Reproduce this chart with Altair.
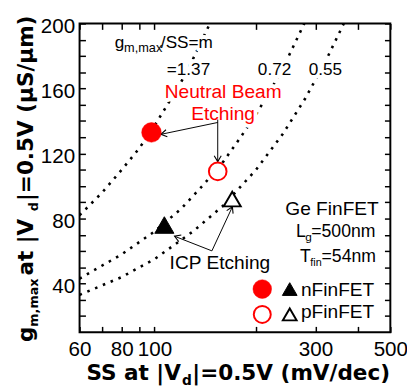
import altair as alt
import pandas as pd

# ---------------- data ----------------
# dotted reference curves  gm,max / SS = m
curve_m = ["1.37", "0.72", "0.55"]
curve_137_ss = [60, 70, 80, 90, 100, 110, 120, 130, 140, 146]
curve_137_gm = [82, 96, 110, 123, 137, 151, 164, 178, 192, 200]
curve_072_ss = [60, 80, 100, 120, 140, 160, 180, 200, 225, 250, 278]
curve_072_gm = [43, 58, 72, 86, 101, 115, 130, 144, 162, 180, 200]
curve_055_ss = [60, 80, 100, 130, 160, 200, 240, 280, 320, 364]
curve_055_gm = [33, 44, 55, 72, 88, 110, 132, 154, 176, 200]

# measured devices
device = ["NB nFinFET", "NB pFinFET", "ICP nFinFET", "ICP pFinFET"]
device_ss = [98, 154, 107, 170]
device_gm = [133, 109, 76, 92]

# legend symbol anchors
legend_col_ss = [208.7, 251.7]   # circle column, triangle column
legend_row_gm = [36.6, 21.0]     # nFinFET row, pFinFET row

# annotation arrows
arrow_from_ss = [154, 154, 148, 148]
arrow_from_gm = [139.1, 140.9, 60.1, 60.1]
arrow_to_ss = [104.5, 154, 114.7, 170.2]
arrow_to_gm = [131.8, 115.0, 69.1, 87.2]
arrow_angle = [259, 180, 291, 25]

x_ticks = [60, 70, 80, 90, 100, 200, 300, 400, 500]
x_tick_labels = [60, 80, 100, 300, 500]
y_ticks = list(range(20, 201, 10))
y_tick_labels = [40, 80, 120, 160, 200]

# ---------------- styling helpers ----------------
ARIAL = "Liberation Sans"
DV = "DejaVu Sans"
RED = "#ff0000"

XS = alt.Scale(type="log", domain=[60, 500], nice=False)
YS = alt.Scale(domain=[10, 200], nice=False, zero=False)


def X(axis=None):
    return alt.X("SS:Q", scale=XS, axis=axis)


def Y(axis=None):
    return alt.Y("gm:Q", scale=YS, axis=axis)


halos, texts = [], []


def txt(s, ss, gm, size, dx=0, dy=0, color="black", font=ARIAL, weight="normal", halo=True):
    df = pd.DataFrame({"SS": [ss], "gm": [gm]})
    kw = dict(text=s, align="left", baseline="alphabetic", dx=dx, dy=dy,
              fontSize=size, font=font, fontWeight=weight)
    if halo:
        halos.append(alt.Chart(df).mark_text(fill="white", stroke="white", strokeWidth=8,
                                             strokeJoin="round", **kw).encode(x=X(), y=Y()))
    texts.append(alt.Chart(df).mark_text(fill=color, **kw).encode(x=X(), y=Y()))


# DejaVu Sans Bold advance widths (em) for chaining title segments
DVB = {'S': .720, 'a': .675, 't': .478, ' ': .348, '|': .366, 'V': .774, 'd': .716,
       '=': .838, '0': .696, '.': .380, '5': .696, '(': .457, ')': .457, 'm': 1.042,
       '/': .365, 'e': .678, 'c': .593, 'g': .716, ',': .380, 'x': .712, 'μ': .721}


def title_layers(segments, px, py, angle=0):
    out = []
    pos = 0.0
    one = pd.DataFrame({"k": [0]})
    for s, size, dy, gap in segments:
        kw = dict(text=s, align="left", baseline="alphabetic", dx=pos, dy=dy,
                  fontSize=size, font=DV, fontWeight="bold", fill="black")
        if angle:
            kw["angle"] = angle
        out.append(alt.Chart(one).mark_text(**kw).encode(x=alt.value(px), y=alt.value(py)))
        pos += sum(DVB.get(c, 0.6) for c in s) * size + gap
    return out


# ---------------- layers ----------------
curves_df = pd.concat([
    pd.DataFrame({"SS": curve_137_ss, "gm": curve_137_gm, "m": curve_m[0]}),
    pd.DataFrame({"SS": curve_072_ss, "gm": curve_072_gm, "m": curve_m[1]}),
    pd.DataFrame({"SS": curve_055_ss, "gm": curve_055_gm, "m": curve_m[2]}),
])

common_axis = dict(title=None, domain=False, grid=False, ticks=True, tickSize=6,
                   tickWidth=1.5, tickColor="black", offset=-6)
lab_x = "[" + ",".join(str(v) for v in x_tick_labels) + "]"
lab_y = "[" + ",".join(str(v) for v in y_tick_labels) + "]"
axis_bottom = alt.Axis(orient="bottom", values=x_ticks,
                       labelExpr=f"indexof({lab_x}, datum.value) >= 0 ? format(datum.value, 'd') : ''",
                       labelFont=ARIAL, labelFontSize=21, labelColor="black", labelPadding=7,
                       labelFlush=False, labelOverlap=False, **common_axis)
axis_left = alt.Axis(orient="left", values=y_ticks,
                     labelExpr=f"indexof({lab_y}, datum.value) >= 0 ? format(datum.value, 'd') : ''",
                     labelFont=ARIAL, labelFontSize=21, labelColor="black", labelPadding=5,
                     labelOffset=3, labelFlush=False, labelOverlap=False, **common_axis)
axis_top = alt.Axis(orient="top", values=x_ticks, labels=False, **common_axis)
axis_right = alt.Axis(orient="right", values=y_ticks, labels=False, **common_axis)

curves = alt.Chart(curves_df).mark_line(
    color="black", strokeWidth=2.6, strokeDash=[2.6, 6], strokeCap="butt", clip=True
).encode(x=X(axis_bottom), y=Y(axis_left), detail="m:N")

mirror = alt.Chart(curves_df).mark_point(opacity=0).encode(x=X(axis_top), y=Y(axis_right))

arrows_df = pd.DataFrame({"SS": arrow_from_ss, "gm": arrow_from_gm,
                          "SS2": arrow_to_ss, "gm2": arrow_to_gm, "ang": arrow_angle})
arrow_lines = alt.Chart(arrows_df).mark_rule(color="black", strokeWidth=1).encode(
    x=X(), y=Y(), x2="SS2:Q", y2="gm2:Q")
arrow_heads = alt.Chart(arrows_df).mark_point(
    shape="M-0.6,1L0,0L0.6,1", filled=False, stroke="black", strokeWidth=1.1,
    size=144, opacity=1
).encode(x=alt.X("SS2:Q", scale=XS, axis=None), y=alt.Y("gm2:Q", scale=YS, axis=None),
         angle=alt.Angle("ang:Q", scale=None))

dev_df = pd.DataFrame({"name": device, "SS": device_ss, "gm": device_gm})


def marker(df, shape, fill, stroke, size, sw):
    return alt.Chart(df).mark_point(shape=shape, filled=True, fill=fill, stroke=stroke,
                                    size=size, strokeWidth=sw, opacity=1,
                                    fillOpacity=1, strokeOpacity=1).encode(x=X(), y=Y())


def one(ss, gm):
    return pd.DataFrame({"SS": [ss], "gm": [gm]})


markers = [
    marker(dev_df.iloc[[0]], "circle", RED, RED, 400, 0.5),
    marker(dev_df.iloc[[1]], "circle", "white", RED, 324, 2),
    marker(dev_df.iloc[[2]], "triangle-up", "black", "black", 380, 1),
    marker(dev_df.iloc[[3]], "triangle-up", "white", "black", 300, 2),
    # legend symbols
    marker(one(legend_col_ss[0], legend_row_gm[0]), "circle", RED, RED, 361, 0.5),
    marker(one(legend_col_ss[1], legend_row_gm[0]), "triangle-up", "black", "black", 225, 1),
    marker(one(legend_col_ss[0], legend_row_gm[1]), "circle", "white", RED, 300, 2),
    marker(one(legend_col_ss[1], legend_row_gm[1]), "triangle-up", "white", "black", 196, 2),
]

# ---------------- annotations ----------------
txt("g", 76.3, 184.9, 17.5)
txt("m,max", 76.3, 184.9, 13, dx=9.5, dy=4)
txt("/SS=m", 76.3, 184.9, 17.5, dx=47)
txt("=1.37", 108.8, 168.2, 17.5)
txt("0.72", 202.5, 168.2, 17.5)
txt("0.55", 286.6, 168.2, 17.5)
txt("Neutral Beam", 107.3, 154.2, 19.5, color=RED)
txt("Etching", 128.5, 140.7, 19.5, color=RED)
txt("ICP Etching", 110.9, 49.2, 19.5)
txt("Ge FinFET", 244.2, 82.4, 19.5)
txt("L", 262.8, 68.5, 18)
txt("g", 262.8, 68.5, 12, dx=9.5, dy=4)
txt("=500nm", 262.8, 68.5, 18, dx=15.5)
txt("T", 269.9, 53.4, 18)
txt("fin", 269.9, 53.4, 11, dx=10.5, dy=4)
txt("=54nm", 269.9, 53.4, 18, dx=22)
txt("nFinFET", 271.8, 32.3, 19.5, halo=False)
txt("pFinFET", 271.8, 19.1, 19.5, halo=False)

x_title = title_layers([("SS at |V", 22, 0, 0), ("d", 14, 5, 0.5),
                        ("|=0.5V (mV/dec)", 22, 0, 0)], 7, 364)
y_title = title_layers([("g", 22, 0, 0), ("m,max", 13, 5, 2), (" at |V", 22, 0, 0),
                        ("d", 13, 5, 1), ("|=0.5V (μS/μm)", 22, 0, 0)], -47, 325, angle=270)

chart = alt.layer(
    curves, *halos, arrow_lines, arrow_heads, *markers, *texts, *x_title, *y_title, mirror
).resolve_axis(x="independent", y="independent").properties(
    width=317, height=315,
    autosize=alt.AutoSizeParams(type="none"),
    padding={"left": 73, "top": 12, "right": 17, "bottom": 52},
    background="white",
).configure_view(stroke="black", strokeWidth=2)

chart.save("out.html", embed_options={"renderer": "svg", "actions": False})
